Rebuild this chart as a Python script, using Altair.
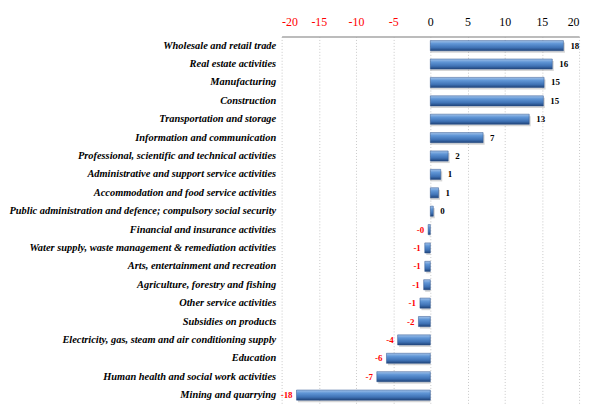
import altair as alt
import pandas as pd

sectors = [
    "Wholesale and retail trade",
    "Real estate activities",
    "Manufacturing",
    "Construction",
    "Transportation and storage",
    "Information and communication",
    "Professional, scientific and technical activities",
    "Administrative and support service activities",
    "Accommodation and food service activities",
    "Public administration and defence; compulsory social security",
    "Financial and insurance activities",
    "Water supply, waste management & remediation activities",
    "Arts, entertainment and recreation",
    "Agriculture, forestry and fishing",
    "Other service activities",
    "Subsidies on products",
    "Electricity, gas, steam and air conditioning supply",
    "Education",
    "Human health and social work activities",
    "Mining and quarrying",
]
values = [17.9, 16.4, 15.3, 15.2, 13.3, 7.1, 2.4, 1.4, 1.1, 0.4,
          -0.3, -0.75, -0.75, -0.9, -1.4, -1.6, -4.4, -5.9, -7.2, -18.0]
labels = ["%.0f" % v for v in values]
ticks = [-20, -15, -10, -5, 0, 5, 10, 15, 20]

df = pd.DataFrame({"sector": sectors, "value": values, "label": labels})

FONT = "Liberation Serif, Times New Roman, serif"

x_scale = alt.Scale(domain=[-20, 20], nice=False, zero=False)
y_scale = alt.Scale(paddingInner=0.45, paddingOuter=0.225)

y_axis = alt.Axis(
    title=None,
    labelFont=FONT,
    labelFontStyle="italic",
    labelFontWeight="bold",
    labelFontSize=10.5,
    labelColor="black",
    domain=False,
    ticks=False,
    labelPadding=6,
    labelLimit=400,
)
x_axis = alt.Axis(
    orient="top",
    values=ticks,
    title=None,
    labelFont=FONT,
    labelFontSize=12,
    labelOverlap=False,
    labelColor=alt.expr("datum.value < 0 ? '#ff0000' : '#000000'"),
    labelExpr="'' + datum.value",
    labelPadding=8,
    grid=True,
    gridDash=[1, 2],
    gridColor="#c8c8c8",
    domainColor="#a6a6a6",
    domainWidth=1.5,
    ticks=False,
)

y_enc = alt.Y("sector:N", sort=sectors, scale=y_scale, axis=y_axis)
x_enc = alt.X("value:Q", scale=x_scale, axis=x_axis)

base = alt.Chart(df)

shadow = base.mark_bar(color="#8a8a8a", opacity=0.35, yOffset=2, xOffset=1.5).encode(
    y=y_enc, x=x_enc, x2=alt.datum(0)
)

bars = base.mark_bar(
    color=alt.Gradient(
        gradient="linear",
        x1=0, x2=0, y1=0, y2=1,
        stops=[
            alt.GradientStop(offset=0, color="#a3c3ea"),
            alt.GradientStop(offset=0.3, color="#6096d6"),
            alt.GradientStop(offset=0.7, color="#3f72b5"),
            alt.GradientStop(offset=1, color="#1f4378"),
        ],
    ),
    stroke="#2a528c",
    strokeWidth=0.5,
).encode(y=y_enc, x=x_enc, x2=alt.datum(0))

pos_text = base.transform_filter("datum.value >= 0").mark_text(
    align="left", dx=7, font=FONT, fontWeight="bold", fontSize=9, color="black"
).encode(y=y_enc, x=x_enc, text="label:N")

neg_text = base.transform_filter("datum.value < 0").mark_text(
    align="right", dx=-4, font=FONT, fontWeight="bold", fontSize=9, color="#ff0000"
).encode(y=y_enc, x=x_enc, text="label:N")

chart = alt.layer(shadow, bars, pos_text, neg_text).properties(
    width=300,
    height=371,
    autosize=alt.AutoSizeParams(type="none"),
    padding={"left": 276, "top": 27, "right": 6, "bottom": 0},
).configure_view(stroke=None)

chart.save("out.html", embed_options={"renderer": "svg", "actions": False})
